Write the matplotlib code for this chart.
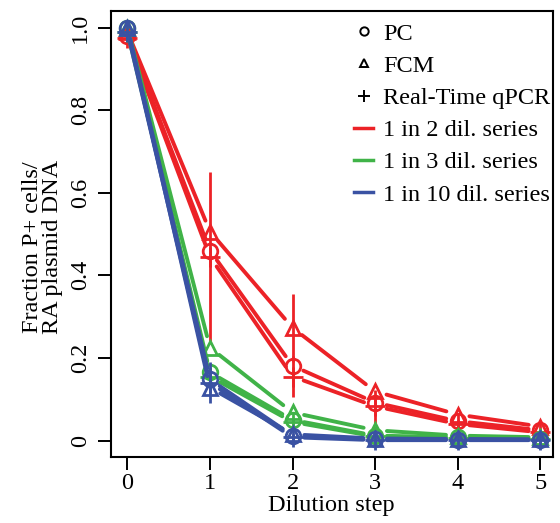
import matplotlib
matplotlib.use("Agg")
import matplotlib.pyplot as plt
from matplotlib.lines import Line2D

plt.rcParams['font.family'] = ['Liberation Serif', 'DejaVu Serif']

steps = [0, 1, 2, 3, 4, 5]

# 1 in 2 dilution series
pc_2 = [0.98, 0.46, 0.181, 0.092, 0.047, 0.025]
fcm_2 = [0.99, 0.506, 0.273, 0.119, 0.063, 0.034]
qpcr_2 = [0.975, 0.445, 0.155, 0.083, 0.04, 0.02]
fcm_2_err = [0, 0, 0.083, 0, 0, 0]
qpcr_2_err = [0, 0.205, 0.05, 0.04, 0.01, 0.005]

# 1 in 3 dilution series
pc_3 = [1.0, 0.165, 0.05, 0.012, 0.008, 0.005]
fcm_3 = [1.0, 0.225, 0.068, 0.025, 0.012, 0.008]
qpcr_3 = [0.99, 0.155, 0.045, 0.01, 0.006, 0.004]
qpcr_3_err = [0, 0.02, 0.01, 0.005, 0.003, 0.002]

# 1 in 10 dilution series
pc_10 = [1.0, 0.148, 0.012, 0.003, 0.002, 0.002]
fcm_10 = [1.0, 0.128, 0.015, 0.005, 0.004, 0.003]
qpcr_10 = [0.99, 0.14, 0.008, 0.001, 0.001, 0.001]
qpcr_10_err = [0, 0.05, 0.008, 0.004, 0.003, 0.003]

x_ticks = [0, 1, 2, 3, 4, 5]
y_ticks = [0, 0.2, 0.4, 0.6, 0.8, 1.0]
y_ticklabels = ['0', '0.2', '0.4', '0.6', '0.8', '1.0']

c_red = '#ec2227'
c_green = '#40b348'
c_blue = '#3a52a3'

FS = 17.5

fig = plt.figure(figsize=(5.6, 5.23), dpi=100)
ax = fig.add_axes([0.198, 0.126, 0.789, 0.853])
ax.set_xlim(-0.2, 5.15)
ax.set_ylim(-0.04, 1.04)

LW = 2.8
MS = 10.5
MEW = 2.0
GAP = 8.5


def series(xs, ys, color, marker, err=None):
    for i in range(len(xs) - 1):
        ax.annotate('', xy=(xs[i + 1], ys[i + 1]), xytext=(xs[i], ys[i]),
                    arrowprops=dict(arrowstyle='-', shrinkA=GAP, shrinkB=GAP,
                                    color=color, lw=LW),
                    annotation_clip=False)
    ax.plot(xs, ys, linestyle='none', marker=marker, mfc='none', mec=color,
            ms=MS if marker != '+' else MS + 4, mew=MEW)
    if err is not None:
        ax.errorbar(xs, ys, yerr=err, fmt='none', ecolor=color,
                    elinewidth=MEW, capsize=0)


for col, pc, fcm, qp, qerr, ferr in [
        (c_red, pc_2, fcm_2, qpcr_2, qpcr_2_err, fcm_2_err),
        (c_green, pc_3, fcm_3, qpcr_3, qpcr_3_err, None),
        (c_blue, pc_10, fcm_10, qpcr_10, qpcr_10_err, None)]:
    series(steps, pc, col, 'o')
    series(steps, fcm, col, '^', ferr)
    series(steps, qp, col, '+', qerr)

ax.set_xticks(x_ticks)
ax.set_yticks(y_ticks)
ax.set_yticklabels(y_ticklabels, rotation=90, va='center')
ax.tick_params(axis='both', direction='out', length=9.5, width=1.4,
               labelsize=FS, pad=5)
ax.tick_params(axis='x', pad=2)
for s in ax.spines.values():
    s.set_linewidth(1.5)

ax.set_xlabel('Dilution step', fontsize=FS, labelpad=1)
ax.set_ylabel('Fraction P+ cells/\nRA plasmid DNA', fontsize=FS,
              linespacing=0.95)
ax.yaxis.set_label_coords(-0.108, 0.47)

handles = [
    Line2D([], [], linestyle='none', marker='o', mfc='none', mec='black',
           ms=6, mew=1.4),
    Line2D([], [], linestyle='none', marker='^', mfc='none', mec='black',
           ms=6, mew=1.4),
    Line2D([], [], linestyle='none', marker='+', color='black', ms=9,
           mew=1.4),
    Line2D([], [], color=c_red, lw=2.5),
    Line2D([], [], color=c_green, lw=2.5),
    Line2D([], [], color=c_blue, lw=2.5),
]
labels = ['PC', 'FCM', 'Real-Time qPCR', '1 in 2 dil. series',
          '1 in 3 dil. series', '1 in 10 dil. series']
ax.legend(handles, labels, loc='upper left', bbox_to_anchor=(0.55, 0.974),
          frameon=False, fontsize=FS, handlelength=0.8, handletextpad=0.4,
          labelspacing=0.42, borderpad=0, borderaxespad=0)

fig.savefig('out.png', dpi=100)
